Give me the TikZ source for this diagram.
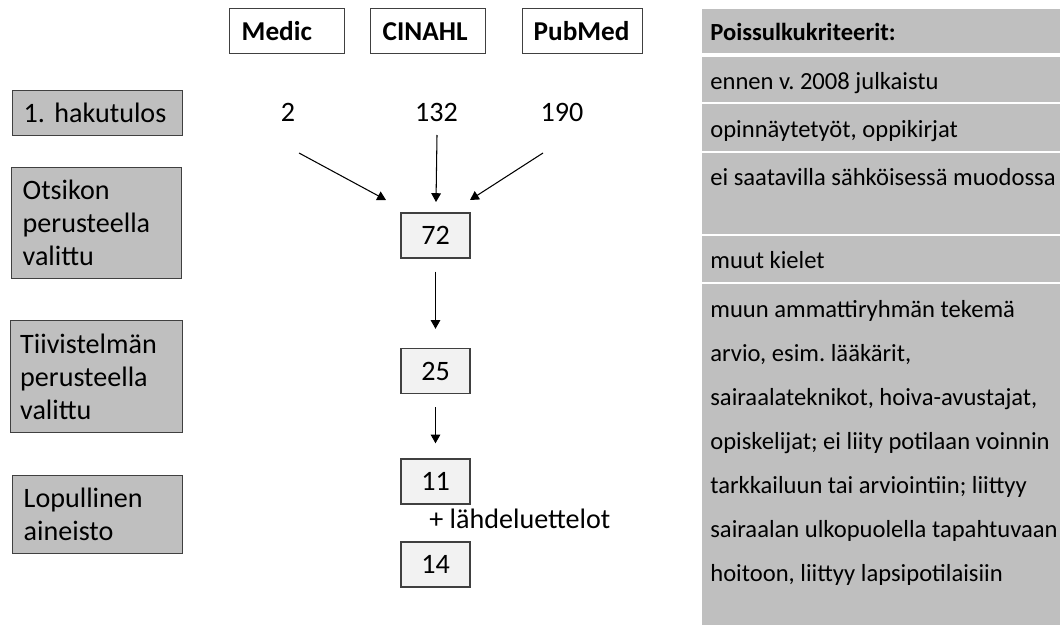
\documentclass[tikz,border=0pt]{standalone}
\usepackage{fontspec}
\setmainfont{Carlito}
\usetikzlibrary{arrows.meta}
\frenchspacing

\begin{document}
\begin{tikzpicture}[x=0.02cm, y=-0.02cm,
		stage/.style = {draw=black!75, fill=black!25, line width=.8pt, anchor=north west, inner xsep=.22cm, inner ysep=0pt, align=left, text width=2.96cm, font=\fontsize{16}{18.7}\selectfont},
		db/.style = {draw=black!75, fill=white, line width=.8pt, anchor=north west, inner xsep=.24cm, inner ysep=0pt, minimum height=.9cm, align=left, text width=1.82cm, font=\bfseries\fontsize{15.5}{18}\selectfont},
		count/.style = {draw=black!75, fill=black!5, line width=.8pt, minimum width=1.38cm, minimum height=.9cm, inner sep=0pt, font=\fontsize{16}{19}\selectfont},
		num/.style = {anchor=base, inner sep=0pt, font=\fontsize{16}{19}\selectfont},
		flow/.style = {-{Triangle[length=5pt,width=5.5pt]}, line width=.6pt},
		crit/.style = {anchor=base west, inner sep=0pt, font=\fontsize{14}{17}\selectfont}]
				\useasboundingbox (0,0) rectangle (1060,625);
				% databases
				\node[db] (medic) at (229,8) {Medic};
				\node[db] (cinahl) at (370,8) {CINAHL};
				\node[db, inner xsep=.22cm, text width=1.96cm] (pubmed) at (522,8) {PubMed};
				% stages on the left
				\node[stage, minimum height=.9cm] (hits) at (12,90) {1. hakutulos};
				\node[stage, minimum height=2.22cm] (title) at (11,167) {Otsikon\\perusteella\\valittu};
				\node[stage, minimum height=2.24cm, inner xsep=.19cm, text width=3.06cm] (abstract) at (10,320) {Tiivistelmän\\perusteella\\valittu};
				\node[stage, minimum height=1.56cm] (final) at (12,475) {Lopullinen\\aineisto};
				% counts
				\node[num] (medic n) at (288,121) {2};
				\node[num] (cinahl n) at (436.5,121) {132};
				\node[num] (pubmed n) at (562,121) {190};
				\node[count] (c72) at (435.5,235.5) {72};
				\node[count] (c25) at (435.5,371) {25};
				\node[count] (c11) at (435.5,481.5) {11};
				\node[count] (c14) at (435.5,564.5) {14};
				\node[num, anchor=base west] (refs) at (429,528) {+ lähdeluettelot};
				% arrows
				\coordinate (m from) at (299,153);
				\coordinate (m to) at (386,200);
				\coordinate (c from) at (437,135);
				\coordinate (c to) at (436,202);
				\coordinate (p from) at (543,153);
				\coordinate (p to) at (470,200);
				\draw[flow] (m from) -- (m to);
				\draw[flow] (c from) -- (c to);
				\draw[flow] (p from) -- (p to);
				\draw[flow, shorten <=.26cm, shorten >=.38cm] (c72) -- (c25);
				\draw[flow, shorten <=.26cm, shorten >=.3cm] (c25) -- (c11);
				% exclusion criteria
				\fill[black!25] (702,9) rectangle (1060,53);
				\foreach \top/\bot in {57/102, 104/151, 153/234, 236/282, 284/625} {
					\fill[black!25] (702,\top) rectangle (1060,\bot);
				}
				\node[crit, font=\bfseries\fontsize{14}{17}\selectfont] (crit head) at (710,41) {Poissulkukriteerit:};
				\node[crit] (crit1) at (710,90) {ennen v. 2008 julkaistu};
				\node[crit] (crit2) at (710,137) {opinnäytetyöt, oppikirjat};
				\node[crit] (crit3) at (710,185) {ei saatavilla sähköisessä muodossa};
				\node[crit] (crit4) at (710,268) {muut kielet};
				\node[crit] (crit5) at (710,317) {muun ammattiryhmän tekemä};
				\node[crit] (crit6) at (710,361) {arvio, esim. lääkärit,};
				\node[crit] (crit7) at (710,405) {sairaalateknikot, hoiva-avustajat,};
				\node[crit] (crit8) at (710,449) {opiskelijat; ei liity potilaan voinnin};
				\node[crit] (crit9) at (710,493) {tarkkailuun tai arviointiin; liittyy};
				\node[crit] (crit10) at (710,537) {sairaalan ulkopuolella tapahtuvaan};
				\node[crit] (crit11) at (710,581) {hoitoon, liittyy lapsipotilaisiin};
			\end{tikzpicture}
\end{document}
